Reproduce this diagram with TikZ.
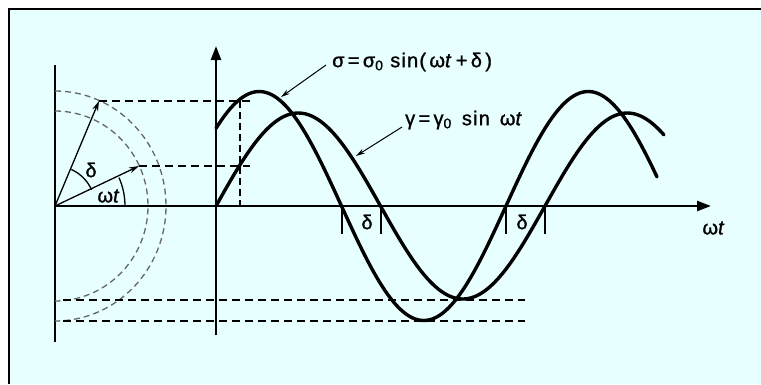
\documentclass[tikz,border=0pt]{standalone}
\usepackage{fontspec}
\setmainfont{Liberation Sans}
\newfontfamily\lblfont[LetterSpace=6,FakeBold=1.2]{Liberation Sans}
\usetikzlibrary{arrows.meta,calc}
\definecolor{bgc}{RGB}{232,255,255}
\begin{document}
\begin{tikzpicture}[x=1pt,y=-1pt,
  axisline/.style={line width=2.4pt},
  curveline/.style={line width=3.4pt, line join=round, line cap=round},
  dshline/.style={line width=1.8pt, dash pattern=on 8pt off 5pt},
  arcdash/.style={line width=1.3pt, draw=black!60, dash pattern=on 6pt off 4pt},
  phasor/.style={line width=1.3pt, -{Stealth[length=10pt,width=6pt]}},
  leader/.style={line width=1pt, -{Stealth[length=9pt,width=5pt]}},
  tickline/.style={line width=2pt},
  lbl/.style={font=\lblfont\fontsize{20}{20}\selectfont, inner sep=0pt},
  axtip/.style={-{Triangle[length=14pt,width=10pt]}}
]
\useasboundingbox (0,0) rectangle (761,384);
\fill[white] (0,0) rectangle (761,384);
\fill[bgc] (9,9) rectangle (761,384);
\draw[line width=2.5pt] (9,384) -- (9,9) -- (761,9);

% key coordinates
\coordinate (O) at (55,206);
\coordinate (A) at (216,206);
\coordinate (Ltop) at (55,65);
\coordinate (Lbot) at (55,342);
\coordinate (Vtop) at (216,46);
\coordinate (Vbot) at (216,335);
\coordinate (Hend) at (711,206);
\coordinate (S) at (99,101);
\coordinate (G) at (139,166);
\coordinate (E) at (250,0);
\coordinate (V) at (240,0);

% axes
\draw[axisline] (Ltop) -- (Lbot);
\draw[axisline,axtip] (Vbot) -- (Vtop);
\draw[axisline,axtip] (O) -- (Hend);
\node[lbl] (wtax) at (714,228) {ω\textit{t}};

% dashed circles (phasor amplitudes)
\draw[arcdash] (55,91) arc[start angle=-90, end angle=90, x radius=111, y radius=115];
\draw[arcdash] (55,111) arc[start angle=-90, end angle=90, x radius=93, y radius=95];

% phasors
\draw[phasor] (O) -- (G);
\draw[phasor] (O) -- (S);
\draw[line width=1.3pt] ($(O)+(70,0)$) arc[start angle=0, end angle=-24, radius=70];
\draw[line width=1.3pt] ($(O)+(-24:40)$) arc[start angle=-24, end angle=-66, radius=40];
\node[lbl] (dph) at (91,170) {δ};
\node[lbl] (wph) at (109,196) {ω\textit{t}};

% dashed projections
\draw[dshline] (S) -- (S -| E);
\draw[dshline] (G) -- (G -| E);
\draw[line width=1.3pt, dash pattern=on 7pt off 4pt] (S -| V) -- (O -| V);
\draw[dshline] (63,300) -- (525,300);
\draw[dshline] (63,321) -- (525,321);

% curves
\draw[curveline] plot[domain=0:441, samples=160] ({216+\x}, {206-114.5*sin(\x/329*360+42.7)});
\draw[curveline] plot[domain=0:448, samples=160] ({216+\x}, {206-93*sin(\x/329*360)});

% delta ticks
\foreach \tx in {342, 381, 506, 545}{
  \draw[tickline] (\tx,206) -- (\tx,234);
}
\node[lbl] (d1) at (367,222) {δ};
\node[lbl] (d2) at (522,222) {δ};

% labels with leaders
\node[lbl, anchor=west] (sig) at (332,62) {σ\,=\,σ\textsubscript{0} sin(\,ω\textit{t}\,+\,δ\,)};
\node[lbl, anchor=west] (gam) at (405,120) {γ\,=\,γ\textsubscript{0}\, sin\enskip ω\textit{t}};
\coordinate (sigtip) at (281,97);
\coordinate (gamtip) at (356,156);
\draw[leader] (sig.west) ++(-6,3) -- (sigtip);
\draw[leader] (gam.west) ++(-3,7) -- (gamtip);
\end{tikzpicture}
\end{document}
